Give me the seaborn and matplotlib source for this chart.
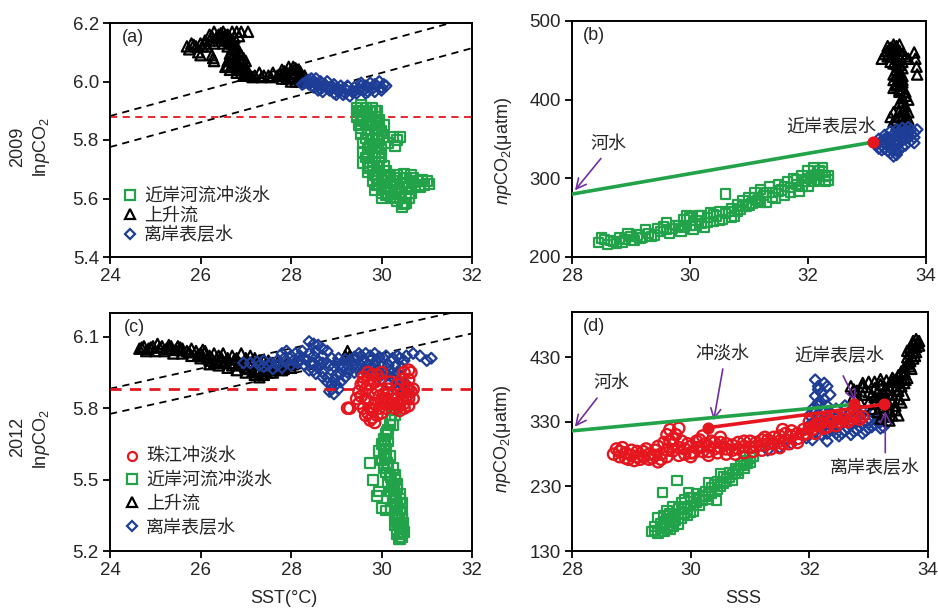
import matplotlib
matplotlib.use("Agg")
import matplotlib.pyplot as plt
import pandas as pd
import seaborn as sns
from matplotlib.lines import Line2D

sns.set_style("ticks")
plt.rcParams["font.family"] = ["Liberation Sans", "Noto Sans CJK SC", "DejaVu Sans"]
plt.rcParams["mathtext.fontset"] = "custom"
plt.rcParams["mathtext.rm"] = "Liberation Sans"
plt.rcParams["mathtext.it"] = "Liberation Sans:italic"
plt.rcParams["axes.unicode_minus"] = False

GREEN = "#22A34A"
BLUE = "#1E3D96"
RED = "#E5161E"
BLACK = "#000000"
PURPLE = "#7030A0"
TXT = "#262626"

# ---------------- 2009: lnpCO2 vs SST  (SST, lnpCO2) ----------------
a_upwelling = [
    (25.7, 6.12), (25.8, 6.13), (25.9, 6.12), (26.0, 6.13), (26.1, 6.14), (25.75, 6.11),
    (25.95, 6.10), (26.0, 6.09), (26.25, 6.09), (26.28, 6.08), (26.3, 6.07),
    (26.2, 6.16), (26.3, 6.17), (26.4, 6.16), (26.5, 6.17), (26.6, 6.16), (26.7, 6.17),
    (26.8, 6.17), (26.9, 6.17), (27.05, 6.17), (26.35, 6.15), (26.5, 6.15), (26.6, 6.14),
    (26.7, 6.13), (26.8, 6.12), (26.2, 6.14), (26.3, 6.13),
    (26.75, 6.11), (26.85, 6.10), (26.9, 6.09), (26.95, 6.08), (27.0, 6.07), (26.8, 6.07),
    (26.7, 6.06), (26.6, 6.07), (26.55, 6.05), (26.65, 6.04), (26.8, 6.04), (26.9, 6.03),
    (27.0, 6.05), (26.95, 6.02),
    (27.0, 6.02), (27.1, 6.02), (27.2, 6.02), (27.3, 6.03), (27.4, 6.02), (27.5, 6.02),
    (27.6, 6.03), (27.7, 6.02), (27.8, 6.04), (27.9, 6.03), (28.0, 6.04), (28.1, 6.03),
    (28.2, 6.02), (28.3, 6.02), (27.9, 6.01), (28.0, 6.00), (28.1, 6.00), (28.2, 6.00),
    (27.8, 6.01), (28.05, 6.05), (27.95, 6.05), (28.15, 6.04),
    (26.25, 6.155), (26.45, 6.155), (26.55, 6.16), (26.65, 6.15), (26.75, 6.15),
    (26.85, 6.155), (26.4, 6.14), (26.5, 6.13), (26.6, 6.12), (26.7, 6.11), (26.75, 6.095),
    (26.85, 6.08), (26.9, 6.065), (26.75, 6.075), (26.7, 6.05), (26.85, 6.05), (26.95, 6.04),
    (26.8, 6.03), (27.0, 6.035), (27.05, 6.025), (26.1, 6.13), (26.15, 6.12), (25.85, 6.125),
    (26.05, 6.12), (27.15, 6.015), (27.35, 6.015), (27.55, 6.015), (27.75, 6.025),
    (27.85, 6.02), (27.95, 6.015), (28.05, 6.015), (28.15, 6.01), (28.25, 6.01), (28.35, 6.0),
    (28.0, 6.025), (28.1, 6.045), (27.85, 6.035), (28.2, 6.035),
    (26.45, 6.165), (26.55, 6.145), (26.65, 6.135), (26.75, 6.125), (26.65, 6.095),
    (26.8, 6.09), (26.7, 6.08), (26.6, 6.055), (26.8, 6.055), (26.9, 6.045),
]

a_offshore = [
    (28.25, 5.99), (28.35, 6.0), (28.45, 6.01), (28.55, 6.01), (28.65, 6.0), (28.5, 5.98),
    (28.6, 5.97), (28.75, 5.99), (28.7, 5.965), (28.85, 5.97), (28.9, 5.985), (29.0, 5.975),
    (29.1, 5.97), (29.2, 5.975), (29.0, 5.955), (29.15, 5.955), (29.3, 5.95), (29.35, 5.965),
    (29.4, 5.98), (29.5, 5.975), (29.6, 5.97), (29.7, 5.98), (29.8, 5.975), (29.9, 5.985),
    (30.0, 5.98), (30.1, 5.985), (29.55, 5.995), (29.75, 5.995), (29.95, 6.0), (29.45, 5.96),
    (29.65, 5.96), (28.95, 5.99), (28.8, 6.0),
    (28.3, 5.995), (28.4, 6.005), (28.5, 6.0), (28.6, 5.99), (28.7, 5.98), (28.8, 5.98),
    (28.9, 5.975), (29.05, 5.965), (29.2, 5.96), (29.25, 5.985), (29.4, 5.965), (29.55, 5.985),
    (29.7, 5.965), (29.85, 5.99), (30.05, 5.99), (29.1, 5.985), (28.95, 5.96), (28.65, 5.975),
    (28.55, 5.99), (28.4, 5.99), (29.65, 5.985), (29.85, 5.965), (30.0, 5.97),
]

a_river = [
    (29.45, 5.91), (29.55, 5.92), (29.65, 5.91), (29.8, 5.91), (29.9, 5.90), (29.45, 5.88),
    (29.55, 5.87), (29.7, 5.88), (29.85, 5.88), (29.95, 5.87), (29.5, 5.85), (29.65, 5.85),
    (29.8, 5.85), (29.95, 5.84), (30.05, 5.85), (29.55, 5.82), (29.7, 5.82), (29.9, 5.82),
    (30.05, 5.81), (30.25, 5.81), (30.35, 5.80), (30.4, 5.81), (30.3, 5.78), (30.15, 5.79),
    (29.6, 5.79), (29.75, 5.78), (29.9, 5.78), (30.0, 5.77), (29.6, 5.76), (29.7, 5.75),
    (29.85, 5.74), (30.0, 5.74), (29.6, 5.72), (29.75, 5.71), (29.9, 5.71), (30.05, 5.71),
    (29.7, 5.69), (29.85, 5.68), (30.0, 5.68), (30.15, 5.68),
    (29.8, 5.66), (29.95, 5.65), (30.1, 5.66), (30.25, 5.66), (30.4, 5.67), (30.55, 5.67),
    (30.7, 5.67), (29.85, 5.63), (30.0, 5.62), (30.15, 5.62), (30.3, 5.63), (30.45, 5.64),
    (30.6, 5.64), (30.0, 5.60), (30.2, 5.60), (30.35, 5.59), (30.5, 5.58), (30.6, 5.60),
    (30.3, 5.615), (30.65, 5.62), (30.8, 5.66), (30.9, 5.665), (31.0, 5.66), (31.05, 5.65),
    (30.85, 5.64), (30.95, 5.645),
    (29.5, 5.9), (29.6, 5.895), (29.75, 5.895), (29.85, 5.9), (29.6, 5.865), (29.75, 5.865),
    (29.9, 5.86), (29.55, 5.84), (29.7, 5.835), (29.85, 5.835), (30.0, 5.83), (29.65, 5.805),
    (29.8, 5.8), (29.95, 5.8), (29.7, 5.77), (29.85, 5.76), (29.95, 5.755), (29.65, 5.74),
    (29.8, 5.725), (29.95, 5.725), (29.7, 5.705), (29.8, 5.695), (29.95, 5.695), (30.1, 5.695),
    (29.9, 5.67), (30.05, 5.67), (30.2, 5.675), (30.35, 5.68), (30.5, 5.685), (30.65, 5.68),
    (29.9, 5.645), (30.05, 5.64), (30.2, 5.64), (30.35, 5.65), (30.5, 5.655), (30.1, 5.61),
    (30.25, 5.605), (30.4, 5.6), (30.55, 5.61), (30.45, 5.57), (30.55, 5.585), (30.7, 5.655),
    (30.75, 5.645),
]

# ---------------- 2009: npCO2 vs SSS  (SSS, npCO2) ----------------
b_river = [
    (28.45, 218), (28.55, 222), (28.6, 216), (28.7, 220), (28.8, 224), (28.75, 217),
    (28.9, 222), (29.0, 226), (29.1, 228), (29.05, 221), (29.2, 225), (29.3, 230),
    (29.25, 235), (29.4, 228), (29.5, 232), (29.55, 238), (29.6, 244), (29.65, 230),
    (29.7, 236), (29.8, 240), (29.85, 233), (29.9, 248), (29.95, 252), (30.0, 240),
    (30.05, 235), (30.1, 246), (30.15, 252), (30.2, 243), (30.25, 238), (30.3, 250),
    (30.35, 256), (30.4, 245), (30.45, 252), (30.5, 258), (30.55, 248), (30.6, 280),
    (30.6, 255), (30.7, 262), (30.75, 252), (30.8, 266), (30.85, 260), (30.9, 272),
    (30.95, 264), (31.0, 276), (31.05, 268), (31.1, 282), (31.15, 272), (31.2, 286),
    (31.25, 278), (31.3, 270), (31.35, 290), (31.4, 282), (31.45, 275), (31.5, 292),
    (31.55, 285), (31.6, 278), (31.65, 296), (31.7, 288), (31.75, 300), (31.8, 292),
    (31.85, 284), (31.9, 304), (31.95, 296), (32.0, 310), (32.05, 300), (32.1, 314),
    (32.0, 290), (32.15, 305), (32.2, 298), (32.25, 308), (32.3, 302), (32.35, 304),
    (28.5, 224), (28.65, 221), (28.85, 219), (28.95, 230), (29.15, 224), (29.35, 226),
    (29.45, 236), (29.6, 235), (29.75, 240), (29.9, 238), (30.0, 250), (30.1, 240),
    (30.2, 252), (30.3, 244), (30.4, 254), (30.5, 246), (30.65, 258), (30.7, 250),
    (30.8, 258), (30.9, 264), (31.0, 266), (31.1, 275), (31.2, 270), (31.3, 282),
    (31.4, 276), (31.5, 284), (31.6, 290), (31.7, 282), (31.8, 298), (31.9, 290),
    (32.0, 300), (32.1, 304), (32.2, 310), (32.3, 296), (32.25, 314), (32.35, 298),
    (32.1, 296),
]

b_upwelling = [
    (33.25, 452), (33.3, 458), (33.35, 462), (33.4, 466), (33.45, 470), (33.5, 468),
    (33.55, 462), (33.6, 458), (33.65, 455), (33.7, 452), (33.4, 455), (33.5, 452),
    (33.45, 446), (33.55, 444), (33.5, 438), (33.6, 440), (33.45, 432), (33.55, 428),
    (33.6, 422), (33.5, 420), (33.45, 415), (33.55, 412), (33.65, 410), (33.6, 402),
    (33.7, 400), (33.65, 392), (33.55, 396), (33.6, 386), (33.7, 384), (33.65, 376),
    (33.55, 378), (33.45, 384), (33.4, 378), (33.6, 370), (33.7, 368), (33.65, 364),
    (33.82, 452), (33.84, 442), (33.85, 432), (33.8, 460), (33.45, 425), (33.5, 418),
    (33.55, 410), (33.6, 430),
    (33.35, 455), (33.45, 460), (33.55, 455), (33.4, 448), (33.5, 445), (33.6, 448),
    (33.55, 435), (33.5, 430), (33.6, 425), (33.55, 418), (33.6, 414), (33.65, 405),
    (33.6, 396), (33.65, 384), (33.6, 378), (33.65, 370), (33.55, 386), (33.5, 374),
    (33.45, 372), (33.55, 368), (33.7, 375), (33.45, 465), (33.35, 468), (33.55, 470),
]

b_offshore = [
    (33.15, 345), (33.2, 350), (33.25, 342), (33.3, 355), (33.35, 348), (33.4, 360),
    (33.45, 352), (33.5, 362), (33.55, 356), (33.6, 364), (33.65, 360), (33.7, 365),
    (33.75, 362), (33.8, 358), (33.85, 362), (33.7, 354), (33.75, 348), (33.8, 345),
    (33.6, 348), (33.65, 342), (33.3, 338), (33.35, 335), (33.4, 332), (33.45, 328),
    (33.5, 330), (33.55, 336), (33.5, 342), (33.4, 342), (33.25, 336), (33.2, 338),
    (33.45, 338), (33.6, 352),
    (33.25, 348), (33.3, 345), (33.35, 352), (33.4, 348), (33.45, 345), (33.5, 350),
    (33.55, 345), (33.6, 356), (33.65, 350), (33.7, 360), (33.75, 356), (33.8, 352),
    (33.3, 350), (33.4, 338), (33.5, 335), (33.45, 356), (33.55, 360), (33.6, 340),
]

# river water -> nearshore surface water mixing line
b_mix_x = [28.0, 33.1]
b_mix_y = [280, 346]

# ---------------- 2012: lnpCO2 vs SST ----------------
c_upwelling = [
    (24.65, 6.05), (24.75, 6.06), (24.85, 6.05), (24.95, 6.06), (25.05, 6.07), (25.15, 6.06),
    (25.25, 6.05), (25.35, 6.06), (25.5, 6.06), (25.6, 6.05), (25.7, 6.04), (25.8, 6.05),
    (25.9, 6.04), (26.0, 6.03), (26.1, 6.04), (26.2, 6.02), (26.3, 6.03), (26.4, 6.02),
    (26.5, 6.03), (26.6, 6.01), (26.7, 6.02), (26.8, 6.01), (26.9, 6.03), (27.0, 6.01),
    (27.1, 6.02), (27.2, 6.01), (27.3, 6.00), (27.4, 6.00), (27.5, 6.00), (27.6, 5.99),
    (24.8, 6.04), (25.0, 6.04), (25.2, 6.04), (25.4, 6.03), (25.6, 6.03), (25.8, 6.02),
    (26.0, 6.01), (26.2, 6.00), (26.3, 5.99), (26.4, 5.98), (26.6, 5.97), (26.8, 5.96),
    (27.0, 5.95), (27.2, 5.94), (27.3, 5.93), (27.4, 5.94), (27.6, 5.95), (27.8, 5.96),
    (28.0, 5.97), (26.2, 5.985), (26.5, 5.99), (26.7, 5.98), (27.0, 5.97), (27.3, 5.96),
    (27.5, 5.97), (27.1, 5.985), (27.7, 5.98), (27.9, 5.99), (28.1, 5.99),
    (29.25, 6.04), (29.2, 6.02), (29.3, 6.02),
    (24.7, 6.055), (24.9, 6.055), (25.1, 6.055), (25.3, 6.05), (25.45, 6.045), (25.55, 6.045),
    (25.75, 6.035), (25.95, 6.025), (26.05, 6.02), (26.15, 6.01), (26.25, 6.01), (26.35, 6.005),
    (26.45, 6.0), (26.55, 5.995), (26.65, 5.99), (26.75, 5.99), (26.85, 5.985), (26.95, 5.98),
    (27.05, 5.965), (27.15, 5.955), (27.25, 5.95), (27.35, 5.945), (27.45, 5.955), (27.55, 5.96),
    (27.65, 5.965), (27.75, 5.97), (27.85, 5.975), (27.95, 5.98), (28.05, 5.985), (26.45, 6.015),
    (26.75, 6.005), (27.05, 5.995), (27.25, 5.985), (27.45, 5.985), (27.7, 5.99), (25.3, 6.065),
    (25.55, 6.055), (26.05, 6.045),
]

c_offshore = [
    (26.95, 5.99), (27.1, 5.99), (27.25, 5.995), (27.4, 6.0), (27.55, 5.99), (27.7, 6.0),
    (27.85, 6.01), (27.4, 5.975), (27.6, 5.965), (27.8, 5.97), (28.0, 5.98), (27.8, 6.03),
    (27.9, 6.04), (28.0, 6.02), (28.1, 6.03), (28.2, 6.02), (28.3, 6.01), (28.15, 5.99),
    (28.3, 5.98), (28.45, 5.99), (28.5, 5.96), (28.6, 5.97), (28.7, 5.95), (28.8, 5.93),
    (28.9, 5.90), (28.85, 5.87), (28.95, 5.86), (29.05, 5.88), (29.1, 5.91), (29.2, 5.93),
    (29.0, 5.94), (28.7, 5.99), (28.85, 5.98), (29.0, 5.99), (29.15, 5.97), (29.3, 5.96),
    (29.45, 5.97), (29.6, 5.96), (29.75, 5.97), (29.9, 5.96), (30.05, 5.95), (30.2, 5.96),
    (30.35, 5.95), (29.3, 6.0), (29.45, 6.01), (29.6, 6.0), (29.75, 6.02), (29.9, 6.0),
    (30.05, 6.01), (30.2, 6.0), (30.35, 6.02), (30.5, 6.0), (29.65, 6.03), (28.5, 6.02),
    (28.6, 6.0), (28.4, 6.08), (28.5, 6.07), (28.6, 6.065), (28.7, 6.05), (28.8, 6.04),
    (30.25, 5.93), (30.4, 5.91), (30.5, 5.89), (30.45, 5.86), (30.55, 5.84), (30.3, 5.88),
    (30.15, 5.90), (30.0, 5.92), (30.7, 6.03), (30.85, 6.02), (31.0, 6.0), (31.1, 6.01),
    (30.55, 6.02),
    (27.3, 5.98), (27.5, 5.98), (27.7, 5.98), (27.9, 5.99), (28.05, 6.0), (28.2, 6.0),
    (28.35, 6.0), (28.5, 5.99), (28.65, 5.985), (28.8, 5.99), (28.95, 5.975), (29.1, 5.985),
    (29.25, 5.98), (29.4, 5.985), (29.55, 5.98), (29.7, 5.985), (29.85, 5.98), (30.0, 5.98),
    (30.15, 5.98), (30.3, 5.975), (30.45, 5.97), (28.4, 5.96), (28.55, 5.945), (28.7, 5.93),
    (28.8, 5.91), (28.95, 5.92), (29.1, 5.945), (29.25, 5.95), (29.4, 5.95), (29.55, 5.945),
    (29.7, 5.95), (29.85, 5.945), (30.0, 5.94), (30.15, 5.94), (30.3, 5.935), (30.45, 5.93),
    (30.5, 5.91), (30.55, 5.87), (30.4, 5.88), (28.9, 5.88), (29.0, 5.90), (28.25, 6.04),
    (28.4, 6.03), (28.55, 6.04), (28.7, 6.02), (28.9, 6.01), (29.05, 6.01), (29.2, 6.005),
    (29.4, 6.015), (29.55, 6.02), (29.8, 6.01), (29.95, 6.015), (30.1, 6.02), (30.25, 6.01),
    (30.4, 6.01), (29.5, 6.03), (29.85, 6.03),
]

c_pearl = [
    (29.3, 5.80), (29.45, 5.84), (29.5, 5.87), (29.55, 5.90), (29.6, 5.93), (29.7, 5.95),
    (29.8, 5.94), (29.65, 5.88), (29.75, 5.90), (29.85, 5.91), (29.5, 5.82), (29.6, 5.80),
    (29.7, 5.83), (29.8, 5.86), (29.9, 5.88), (29.65, 5.77), (29.75, 5.75), (29.85, 5.74),
    (29.9, 5.77), (29.95, 5.80), (30.0, 5.83), (30.05, 5.86), (29.8, 5.79), (30.1, 5.80),
    (30.2, 5.82), (30.3, 5.80), (30.4, 5.81), (30.5, 5.82), (30.6, 5.84), (30.65, 5.87),
    (30.55, 5.89), (30.45, 5.86), (30.35, 5.84), (30.25, 5.86), (30.15, 5.88), (30.1, 5.84),
    (30.6, 5.92), (30.65, 5.95), (30.5, 5.95), (29.95, 5.92), (30.0, 5.95), (30.2, 5.91),
    (30.35, 5.90), (29.25, 5.80),
    (29.55, 5.85), (29.65, 5.84), (29.75, 5.80), (29.85, 5.82), (29.95, 5.85), (30.05, 5.82),
    (29.7, 5.78), (29.8, 5.76), (30.0, 5.78), (30.15, 5.83), (30.25, 5.82), (30.35, 5.82),
    (30.45, 5.84), (30.55, 5.85), (30.6, 5.88), (30.7, 5.88), (30.7, 5.84), (30.6, 5.81),
    (30.5, 5.80), (30.4, 5.79), (29.6, 5.91), (29.7, 5.92), (29.9, 5.94), (30.45, 5.92),
    (30.6, 5.96),
]

c_river = [
    (30.25, 5.79), (30.3, 5.77), (30.2, 5.75), (30.25, 5.73), (30.15, 5.71), (30.1, 5.69),
    (30.05, 5.67), (30.15, 5.66), (30.0, 5.65), (30.1, 5.63), (30.05, 5.61), (29.95, 5.62),
    (30.1, 5.59), (30.2, 5.60), (30.0, 5.58), (30.15, 5.56), (30.05, 5.55), (30.25, 5.55),
    (30.1, 5.53), (30.2, 5.51), (30.3, 5.50), (30.15, 5.49), (30.25, 5.47), (30.35, 5.46),
    (30.2, 5.45), (30.3, 5.43), (30.4, 5.42), (30.25, 5.41), (30.35, 5.39), (30.2, 5.38),
    (30.4, 5.37), (30.3, 5.35), (30.45, 5.34), (30.35, 5.32), (30.4, 5.30), (30.3, 5.31),
    (30.45, 5.29), (30.35, 5.27), (30.45, 5.26), (30.4, 5.25), (30.5, 5.28),
    (29.75, 5.57), (29.82, 5.50), (29.9, 5.43), (30.0, 5.38), (29.95, 5.45), (30.1, 5.37),
    (30.22, 5.77), (30.18, 5.73), (30.12, 5.70), (30.08, 5.66), (30.05, 5.64), (30.08, 5.60),
    (30.12, 5.57), (30.12, 5.55), (30.18, 5.52), (30.22, 5.49), (30.27, 5.46), (30.28, 5.44),
    (30.32, 5.41), (30.3, 5.38), (30.35, 5.36), (30.38, 5.33), (30.4, 5.31), (30.42, 5.28),
    (30.4, 5.27), (30.38, 5.25), (30.3, 5.52), (30.35, 5.48), (30.4, 5.44), (30.45, 5.40),
    (30.45, 5.36), (30.48, 5.32),
]

# ---------------- 2012: npCO2 vs SSS ----------------
d_pearl = [
    (28.7, 280), (28.8, 276), (28.9, 282), (29.0, 278), (29.1, 284), (29.2, 276), (29.3, 280),
    (29.4, 286), (29.5, 280), (28.75, 288), (28.95, 272), (29.15, 272), (29.35, 274),
    (29.45, 292), (29.55, 298), (29.6, 310), (29.65, 318), (29.7, 304), (29.8, 320),
    (29.85, 300), (29.9, 288), (29.95, 296), (30.0, 292), (29.7, 285), (29.8, 278),
    (29.6, 276), (30.05, 282), (30.1, 300), (30.15, 290), (30.25, 296), (30.3, 284),
    (30.4, 298), (30.5, 290), (30.6, 296), (30.7, 286), (30.8, 298), (30.9, 292),
    (31.0, 300), (31.1, 292), (31.2, 302), (31.3, 296), (31.4, 306), (31.5, 300),
    (31.55, 318), (31.6, 312), (31.7, 308), (31.8, 312), (31.9, 318), (30.45, 282),
    (30.75, 280), (31.05, 284), (31.35, 288), (31.65, 296), (30.2, 308), (30.5, 306),
    (32.05, 318), (32.15, 326), (32.25, 320), (32.35, 330), (32.45, 324), (32.55, 334),
    (32.65, 330), (32.75, 338), (32.85, 334), (32.2, 334), (32.4, 338), (32.6, 340),
    (32.1, 312),
    (28.8, 284), (28.9, 274), (29.0, 286), (29.1, 276), (29.2, 284), (29.3, 272), (29.4, 278),
    (29.5, 272), (29.6, 286), (29.7, 295), (29.75, 310), (29.8, 290), (29.9, 280), (30.0, 282),
    (30.1, 290), (30.2, 284), (30.3, 292), (30.4, 288), (30.5, 298), (30.6, 288), (30.7, 294),
    (30.8, 288), (30.9, 300), (31.0, 290), (31.1, 298), (31.2, 294), (31.3, 302), (31.4, 296),
    (31.5, 308), (31.6, 302), (31.7, 316), (31.8, 304), (31.9, 310), (31.95, 312), (32.0, 320),
    (32.1, 325), (32.2, 328), (32.3, 322), (32.4, 330), (32.5, 330), (32.6, 334), (32.7, 334),
    (32.8, 338), (32.9, 338), (32.0, 330), (32.3, 336), (28.85, 290), (29.25, 288),
    (29.65, 300), (30.35, 300), (30.15, 302), (31.25, 306), (31.55, 296),
    (30.0, 276), (30.3, 278), (30.6, 280), (30.9, 282), (31.2, 286), (31.5, 290),
    (31.8, 298), (29.05, 270), (29.45, 268),
]

d_river = [
    (29.35, 160), (29.45, 158), (29.55, 160), (29.65, 163), (29.4, 168), (29.5, 172),
    (29.6, 170), (29.7, 168), (29.8, 172), (29.45, 182), (29.55, 185), (29.65, 180),
    (29.75, 185), (29.85, 180), (29.9, 188), (29.6, 192), (29.7, 198), (29.8, 195),
    (29.95, 195), (30.0, 200), (30.05, 192), (29.85, 205), (29.9, 210), (30.0, 212),
    (30.1, 205), (30.15, 210), (30.2, 215), (30.1, 218), (30.25, 222), (30.3, 218),
    (30.35, 228), (30.4, 232), (30.3, 236), (30.45, 238), (30.5, 235), (30.55, 245),
    (30.6, 242), (30.5, 250), (30.65, 252), (30.7, 248), (30.75, 258), (30.8, 255),
    (30.85, 262), (30.9, 266), (30.95, 270), (31.0, 274), (31.05, 276), (30.7, 240),
    (30.9, 258), (29.77, 239), (29.53, 221), (29.96, 221), (30.44, 208),
    (29.4, 162), (29.5, 165), (29.6, 165), (29.7, 175), (29.75, 178), (29.85, 188),
    (29.95, 185), (30.0, 190), (30.05, 200), (30.15, 200), (30.2, 208), (30.3, 210),
    (30.25, 214), (30.35, 220), (30.45, 225), (30.5, 230), (30.55, 235), (30.6, 238),
    (30.65, 244), (30.75, 250), (30.8, 250), (30.9, 262), (30.95, 265), (31.0, 268),
    (29.55, 175), (29.65, 188), (29.9, 198), (30.1, 212),
]

d_upwelling = [
    (32.7, 385), (32.8, 378), (32.9, 384), (33.0, 376), (33.1, 382), (33.2, 388), (33.3, 380),
    (33.4, 386), (33.5, 392), (32.75, 370), (32.85, 362), (33.0, 360), (33.1, 368),
    (33.2, 372), (33.3, 365), (33.4, 372), (33.5, 378), (33.05, 350), (33.15, 345),
    (33.25, 352), (33.35, 346), (33.45, 355), (33.5, 340), (33.2, 335), (33.35, 332),
    (33.55, 360), (33.45, 395), (33.5, 402), (33.55, 408), (33.6, 404), (33.6, 414),
    (33.65, 420), (33.7, 424), (33.65, 430), (33.7, 436), (33.75, 440), (33.8, 446),
    (33.82, 452), (33.78, 432), (33.72, 412), (33.62, 395), (33.4, 398), (33.3, 394),
    (33.0, 392), (33.65, 440), (33.75, 455), (33.85, 448),
    (32.75, 380), (32.9, 372), (33.05, 372), (33.15, 376), (33.25, 376), (33.35, 382),
    (33.45, 380), (33.55, 385), (33.6, 390), (33.1, 358), (33.2, 362), (33.3, 358),
    (33.4, 362), (33.5, 365), (33.6, 372), (33.25, 342), (33.4, 340), (33.45, 348),
    (33.3, 338), (33.55, 398), (33.65, 398), (33.6, 408), (33.7, 416), (33.75, 428),
    (33.8, 438), (33.75, 450), (33.8, 458), (33.85, 455), (33.7, 445), (32.9, 390),
    (33.1, 392), (33.2, 396), (33.4, 392),
]

d_offshore = [
    (32.1, 395), (32.15, 385), (32.2, 375), (32.1, 370), (32.25, 365), (32.15, 360),
    (32.3, 355), (32.05, 350), (32.2, 348), (32.35, 345), (32.0, 340), (32.1, 332),
    (32.25, 336), (32.4, 340), (32.0, 325), (32.1, 315), (32.2, 322), (32.3, 312),
    (32.4, 320), (32.5, 308), (32.6, 316), (32.7, 310), (32.8, 318), (32.9, 312),
    (33.0, 320), (33.1, 326), (33.2, 330), (33.25, 322), (32.5, 326), (32.7, 326),
    (32.9, 328), (32.45, 350), (32.6, 355), (32.7, 345), (32.85, 342), (33.0, 335),
    (33.15, 338), (31.95, 305), (32.05, 302), (32.3, 300), (31.5, 290), (31.7, 296),
    (31.3, 286), (32.3, 385), (32.35, 372),
    (32.15, 380), (32.2, 360), (32.1, 345), (32.25, 345), (32.3, 330), (32.35, 318),
    (32.45, 312), (32.55, 312), (32.65, 320), (32.75, 315), (32.85, 322), (32.95, 316),
    (33.05, 322), (33.15, 330), (32.2, 310), (32.1, 325), (32.3, 340), (32.4, 330),
    (32.6, 330), (32.8, 330), (33.0, 328), (32.5, 340), (32.65, 340), (32.8, 345),
    (32.95, 340), (33.1, 345), (33.2, 320), (33.3, 328), (32.15, 355), (32.25, 390),
]

d_river_line_x = [28.0, 32.75]
d_river_line_y = [316, 357]
d_pearl_line_x = [30.3, 33.25]
d_pearl_line_y = [321, 357]

# dashed reference lines for lnpCO2 (temperature effect) and the reference level
sst_ends = [24, 32]
therm_hi = [5.882, 6.220]
therm_lo = [5.776, 6.114]
ref_level = 5.88


def scatter(ax, pts, color, marker, size, lw=1.6):
    df = pd.DataFrame(pts, columns=["x", "y"])
    sns.scatterplot(data=df, x="x", y="y", ax=ax, color=color, marker=marker, s=size,
                    facecolor="none", edgecolor=color, linewidth=lw, legend=False, zorder=3)


def style_axes(ax, xlim, ylim, xticks, yticks, yfmt):
    ax.set_xlim(*xlim)
    ax.set_ylim(*ylim)
    ax.set_xticks(xticks)
    ax.set_yticks(yticks)
    ax.set_yticklabels([yfmt.format(v) for v in yticks])
    ax.set_xticklabels([str(v) for v in xticks])
    ax.tick_params(direction="out", length=5, width=1.3, labelsize=13.5, colors="black",
                   labelcolor=TXT, pad=3, top=False, right=False)
    for s in ax.spines.values():
        s.set_linewidth(1.4)
        s.set_color("black")
    ax.set_xlabel("")
    ax.set_ylabel("")


fig = plt.figure(figsize=(9.38, 6.11), dpi=100)
W, H = 938, 611


def add_axes(l, t, r, b):
    return fig.add_axes([l / W, 1 - b / H, (r - l) / W, (b - t) / H])


axa = add_axes(110, 23, 472, 257)
axb = add_axes(572, 21, 926, 257)
axc = add_axes(110, 313, 472, 551)
axd = add_axes(572, 312, 928, 551)

# ----- (a)
for ys in (therm_hi, therm_lo):
    axa.plot(sst_ends, ys, color="black", lw=1.3, ls=(0, (4, 3)), zorder=2)
axa.axhline(ref_level, color=RED, lw=1.3, ls=(0, (4, 3)), zorder=2)
scatter(axa, a_river, GREEN, "s", 50)
scatter(axa, a_upwelling, BLACK, "^", 55)
scatter(axa, a_offshore, BLUE, "D", 30)
style_axes(axa, (24, 32), (5.4, 6.2), [24, 26, 28, 30, 32], [5.4, 5.6, 5.8, 6.0, 6.2], "{:.1f}")
axa.text(0.033, 0.94, "(a)", transform=axa.transAxes, fontsize=13, color=TXT, va="center")

leg_kw = dict(linestyle="none", markerfacecolor="none", markersize=6.5, markeredgewidth=1.6)
h_riv = Line2D([], [], marker="s", markeredgecolor=GREEN, **leg_kw)
h_up = Line2D([], [], marker="^", markeredgecolor=BLACK, **leg_kw)
h_off = Line2D([], [], marker="D", markeredgecolor=BLUE, **dict(leg_kw, markersize=5))
h_prd = Line2D([], [], marker="o", markeredgecolor=RED, **leg_kw)
axa.legend([h_riv, h_up, h_off], ["近岸河流冲淡水", "上升流", "离岸表层水"],
           loc="lower left", bbox_to_anchor=(0.0, 0.0), frameon=False, fontsize=13,
           handlelength=0.8, handletextpad=0.4, labelspacing=0.12, borderaxespad=0.3,
           labelcolor=TXT)

# ----- (b)
axb.plot(b_mix_x, b_mix_y, color=GREEN, lw=2.6, zorder=4)
scatter(axb, b_river, GREEN, "s", 45)
scatter(axb, b_upwelling, BLACK, "^", 55)
scatter(axb, b_offshore, BLUE, "D", 30)
axb.scatter([b_mix_x[1]], [b_mix_y[1]], s=60, color=RED, zorder=5)
style_axes(axb, (28, 34), (200, 500), [28, 30, 32, 34], [200, 300, 400, 500], "{:.0f}")
axb.text(0.03, 0.94, "(b)", transform=axb.transAxes, fontsize=13, color=TXT, va="center")
axb.text(28.61, 343, "河水", fontsize=13, color=TXT, ha="center", va="center")
axb.annotate("", xy=(28.02, 282), xytext=(28.52, 328),
             arrowprops=dict(arrowstyle="->", color=PURPLE, lw=1.2, mutation_scale=18))
axb.text(32.4, 365, "近岸表层水", fontsize=13, color=TXT, ha="center", va="center")

# ----- (c)
for ys in (therm_hi, therm_lo):
    axc.plot(sst_ends, ys, color="black", lw=1.3, ls=(0, (4, 3)), zorder=2)
scatter(axc, c_river, GREEN, "s", 50)
scatter(axc, c_upwelling, BLACK, "^", 55)
scatter(axc, c_offshore, BLUE, "D", 30)
scatter(axc, c_pearl, RED, "o", 65, lw=1.7)
axc.axhline(ref_level, color=RED, lw=2.0, ls=(0, (4, 3)), zorder=4)
style_axes(axc, (24, 32), (5.2, 6.2), [24, 26, 28, 30, 32], [5.2, 5.5, 5.8, 6.1], "{:.1f}")
axc.text(0.037, 0.94, "(c)", transform=axc.transAxes, fontsize=13, color=TXT, va="center")
axc.legend([h_prd, h_riv, h_up, h_off], ["珠江冲淡水", "近岸河流冲淡水", "上升流", "离岸表层水"],
           loc="lower left", bbox_to_anchor=(0.0, 0.0), frameon=False, fontsize=13,
           handlelength=0.8, handletextpad=0.4, labelspacing=0.35, borderaxespad=0.4,
           labelcolor=TXT)
axc.set_xlabel("SST(°C)", fontsize=13, color=TXT)

# ----- (d)
scatter(axd, d_river, GREEN, "s", 45)
scatter(axd, d_offshore, BLUE, "D", 30)
scatter(axd, d_upwelling, BLACK, "^", 55)
scatter(axd, d_pearl, RED, "o", 65, lw=1.7)
axd.plot(d_river_line_x, d_river_line_y, color=GREEN, lw=2.6, zorder=4)
axd.plot(d_pearl_line_x, d_pearl_line_y, color=RED, lw=2.6, zorder=4)
axd.scatter([d_pearl_line_x[0], d_pearl_line_x[1], d_river_line_x[1]],
            [d_pearl_line_y[0], d_pearl_line_y[1], d_river_line_y[1]], s=60, color=RED, zorder=5)
style_axes(axd, (28, 34), (130, 500), [28, 30, 32, 34], [130, 230, 330, 430], "{:.0f}")
axd.text(0.03, 0.94, "(d)", transform=axd.transAxes, fontsize=13, color=TXT, va="center")
arrow = dict(arrowstyle="->", color=PURPLE, lw=1.2, mutation_scale=18)
axd.text(28.67, 390, "河水", fontsize=13, color=TXT, ha="center", va="center")
axd.annotate("", xy=(28.02, 319), xytext=(28.45, 370), arrowprops=arrow)
axd.text(30.53, 434, "冲淡水", fontsize=13, color=TXT, ha="center", va="center")
axd.annotate("", xy=(30.38, 328), xytext=(30.55, 416), arrowprops=arrow)
axd.text(32.5, 431, "近岸表层水", fontsize=13, color=TXT, ha="center", va="center")
axd.annotate("", xy=(32.8, 358), xytext=(32.55, 405), arrowprops=arrow)
axd.text(33.1, 258, "离岸表层水", fontsize=13, color=TXT, ha="center", va="center")
axd.annotate("", xy=(33.28, 351), xytext=(33.28, 278), arrowprops=arrow)
axd.set_xlabel("SSS", fontsize=13, color=TXT)

# y labels and year tags
ylab_a = r"ln$\it{p}$CO$_2$"
ylab_b = r"$\it{np}$CO$_2$(μatm)"
for ax, lab, xc, yc in ((axa, ylab_a, -0.16, 0.47), (axc, ylab_a, -0.16, 0.47),
                        (axb, ylab_b, -0.165, 0.45), (axd, ylab_b, -0.165, 0.47)):
    ax.set_ylabel(lab, fontsize=13, color=TXT)
    ax.yaxis.set_label_coords(xc, yc)
fig.text(18 / W, 1 - 147 / H, "2009", rotation=90, fontsize=13, color=TXT, ha="center", va="center")
fig.text(18 / W, 1 - 437 / H, "2012", rotation=90, fontsize=13, color=TXT, ha="center", va="center")
axc.xaxis.set_label_coords(0.48, -0.165)
axd.xaxis.set_label_coords(0.48, -0.165)

fig.savefig("out.png", dpi=100)
